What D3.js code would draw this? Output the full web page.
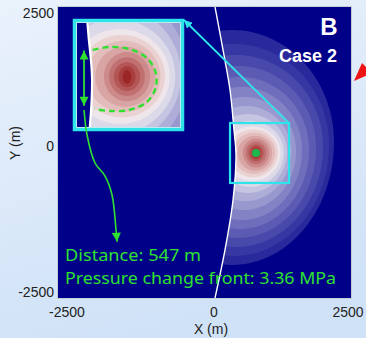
<!DOCTYPE html>
<html><head><meta charset="utf-8">
<script src="https://cdn.jsdelivr.net/npm/d3@7"></script>
<style>html,body{margin:0;padding:0;} svg{display:block}</style>
</head><body><svg id="c" width="366" height="338"></svg>
<script>
// ---- data (metres) ----
const xTicks = [-2500, 0, 2500];
const yTicks = [2500, 0, -2500];
// pressure-change contour bands, outer to inner
const bandCx     = [336,373,411,448,485,522,560,597,634,672,709,728,746,765,784,784,784,784,784];
const bandRight  = [2239,2146,2034,1903,1773,1642,1530,1437,1362,1300,1240,1190,1140,1085,1030,975,925,875,830];
const bandTop    = [2181,1918,1711,1504,1297,1109,921,752,602,470,370,310,250,190,135,80,30,-10,-50];
const bandBottom = [-2037,-1883,-1729,-1575,-1421,-1267,-1096,-942,-805,-700,-600,-535,-480,-425,-370,-315,-265,-225,-190];
const bandColors = ["#29299c","#3737a4","#4949ac","#5b5bb4","#6e6ebc","#8282c5","#9898cf","#adadd8","#c5c5e1","#dcd9e8","#eee6ea","#ebd2d2","#e3bcbc","#d9a4a4","#cd8a8a","#c07070","#b45656","#a83e3e","#9c2626"];
// fault trace
const faultX = [19,168,299,373,411,355,205,19];
const faultY = [2613,1805,1053,301,-154,-924,-1780,-2602];
// injection well
const wellX = 784, wellY = -120;
// zoom window (box in map) and inset extent
const zoomX = [299, 1400], zoomY = [-633, 432];
const insetX = [250, 1350], insetY = [-633, 432];
// pressure change front (dashed)
const frontX = [418,596,806,995,1089,1089,995,806,596,439];
const frontY = [156,186,166,74,-70,-234,-377,-459,-469,-449];
// distance arrow (in zoom window)
const distX = [325, 325], distY = [150, -415];
// leader curve
const leadX = [-2210,-2159,-2023,-1853,-1734,-1666,-1649];
const leadY = [677,207,-291,-514,-839,-1438,-1640];

const svg = d3.select("#c");
const defs = svg.append("defs");
const grad = defs.append("linearGradient").attr("id","bg").attr("x1",0).attr("y1",0).attr("x2",0.3).attr("y2",1);
grad.append("stop").attr("offset","0%").attr("stop-color","#eaf2fc");
grad.append("stop").attr("offset","100%").attr("stop-color","#d0e2f7");
svg.append("rect").attr("width",366).attr("height",338).attr("fill","url(#bg)");

const x = d3.scaleLinear().domain([-2500,0,2500]).range([67,214,348]);
const y = d3.scaleLinear().domain([2500,0,-2500]).range([13,146,292]);
const P = {x0:58, y0:7, x1:351, y1:298};
const I = {x0:77, y0:23, x1:180, y1:127};
const ix = d3.scaleLinear().domain(insetX).range([I.x0, I.x1]);
const iy = d3.scaleLinear().domain([insetY[1], insetY[0]]).range([I.y0, I.y1]);

const NAVY = "#000088", GREEN = "#2fe02f", CYAN = "#2ee4ea";

function field(g, sx, sy, R, id, faultW) {
  defs.append("clipPath").attr("id", id+"r").append("rect")
    .attr("x",R.x0).attr("y",R.y0).attr("width",R.x1-R.x0).attr("height",R.y1-R.y0);
  const gg = g.append("g").attr("clip-path",`url(#${id}r)`);
  gg.append("rect").attr("x",R.x0).attr("y",R.y0).attr("width",R.x1-R.x0).attr("height",R.y1-R.y0).attr("fill",NAVY);
  const fpts = faultX.map((v,i)=>[sx(v), sy(faultY[i])]);
  const fline = d3.line().curve(d3.curveCatmullRom)(fpts);
  const region = fline + `L${sx(4000)},${sy(-4000)}L${sx(4000)},${sy(4000)}L${fpts[0][0]},${sy(4000)}Z`;
  defs.append("clipPath").attr("id", id+"f").append("path").attr("d", region);
  const bands = gg.append("g").attr("clip-path",`url(#${id}f)`);
  bandColors.forEach((c,i)=>{
    const cy = (bandTop[i]+bandBottom[i])/2, ry = (bandTop[i]-bandBottom[i])/2;
    const cx = bandCx[i], rx = bandRight[i]-bandCx[i];
    const pts = d3.range(0,360,3).map(a=>{const t=a*Math.PI/180; return [sx(cx+rx*Math.cos(t)), sy(cy+ry*Math.sin(t))];});
    bands.append("path").attr("d", d3.line().curve(d3.curveLinearClosed)(pts)).attr("fill", c);
  });
  gg.append("path").attr("d", fline).attr("fill","none").attr("stroke","#ffffff").attr("stroke-width",faultW);
  return gg;
}

function marker(id, color, w, h) {
  defs.append("marker").attr("id",id).attr("viewBox","0 0 10 10").attr("refX",10).attr("refY",5)
    .attr("markerUnits","userSpaceOnUse").attr("markerWidth",w).attr("markerHeight",h)
    .attr("orient","auto-start-reverse")
    .append("path").attr("d","M0,0L10,5L0,10Z").attr("fill",color);
}
marker("ga", GREEN, 10, 9);
marker("ca", CYAN, 9, 8);

// main field
const main = svg.append("g");
const mg = field(main, x, y, P, "m", 1.4);
mg.append("circle").attr("cx",x(wellX)).attr("cy",y(wellY)).attr("r",4).attr("fill","#1fb84a");
svg.append("rect").attr("x",P.x0-0.5).attr("y",P.y0-0.5).attr("width",P.x1-P.x0+1).attr("height",P.y1-P.y0+1)
  .attr("fill","none").attr("stroke","#c4ccd8").attr("stroke-width",1);

// zoom box in main
svg.append("rect").attr("x",x(zoomX[0])).attr("y",y(zoomY[1])).attr("width",x(zoomX[1])-x(zoomX[0])).attr("height",y(zoomY[0])-y(zoomY[1]))
  .attr("fill","none").attr("stroke",CYAN).attr("stroke-width",2.2);

// inset
const inset = svg.append("g");
field(inset, ix, iy, I, "i", 2.2);
svg.append("rect").attr("x",I.x0-0.5).attr("y",I.y0-0.5).attr("width",I.x1-I.x0+1).attr("height",I.y1-I.y0+1)
  .attr("fill","none").attr("stroke","#e8eef4").attr("stroke-width",1);
svg.append("rect").attr("x",I.x0-2.5).attr("y",I.y0-2.5).attr("width",I.x1-I.x0+5).attr("height",I.y1-I.y0+5)
  .attr("fill","none").attr("stroke",CYAN).attr("stroke-width",3.5);

// connector arrow
svg.append("line").attr("x1",x(zoomX[1])).attr("y1",y(zoomY[1])).attr("x2",I.x1+4).attr("y2",I.y0-3)
  .attr("stroke",CYAN).attr("stroke-width",1.8).attr("marker-end","url(#ca)");

// pressure front (dashed)
svg.append("path").attr("d", d3.line().curve(d3.curveCatmullRom)(frontX.map((v,i)=>[ix(v), iy(frontY[i])])))
  .attr("fill","none").attr("stroke",GREEN).attr("stroke-width",2.4).attr("stroke-dasharray","6,4");

// distance arrow
svg.append("line").attr("x1",ix(distX[0])).attr("y1",iy(distY[0])).attr("x2",ix(distX[1])).attr("y2",iy(distY[1]))
  .attr("stroke",GREEN).attr("stroke-width",1.8).attr("marker-start","url(#ga)").attr("marker-end","url(#ga)");

// leader
svg.append("path").attr("d", d3.line().curve(d3.curveCatmullRom)(leadX.map((v,i)=>[x(v), y(leadY[i])])))
  .attr("fill","none").attr("stroke",GREEN).attr("stroke-width",1.6).attr("marker-end","url(#ga)");

// texts
const F = "'Noto Sans', 'Open Sans', sans-serif";
const A = "'Liberation Sans', Arial, sans-serif";
svg.append("text").attr("x",65).attr("y",261).attr("fill",GREEN).attr("font-family",F).attr("font-size",17)
  .attr("textLength",136).attr("lengthAdjust","spacingAndGlyphs").text("Distance: 547 m");
svg.append("text").attr("x",65).attr("y",284).attr("fill",GREEN).attr("font-family",F).attr("font-size",17)
  .attr("textLength",271).attr("lengthAdjust","spacingAndGlyphs").text("Pressure change front: 3.36 MPa");
svg.append("text").attr("x",329).attr("y",35).attr("text-anchor","middle").attr("fill","#fff").attr("font-family",A).attr("font-weight","bold").attr("font-size",24).text("B");
svg.append("text").attr("x",337).attr("y",62).attr("text-anchor","end").attr("fill","#fff").attr("font-family",A).attr("font-weight","bold").attr("font-size",18).text("Case 2");

// ticks
svg.selectAll(".xt").data(xTicks).join("text").attr("x",d=>x(d)).attr("y",317).attr("text-anchor","middle")
  .attr("font-family",A).attr("font-size",14).attr("fill","#222").text(d=>d);
svg.selectAll(".yt").data(yTicks).join("text").attr("x",54).attr("y",d=>y(d)+5).attr("text-anchor","end")
  .attr("font-family",A).attr("font-size",14).attr("fill","#222").text(d=>d);
svg.append("text").attr("x",211).attr("y",334).attr("text-anchor","middle").attr("font-family",A).attr("font-size",14).attr("fill","#222").text("X (m)");
svg.append("text").attr("transform","translate(20,143) rotate(-90)").attr("text-anchor","middle").attr("font-family",A).attr("font-size",14).attr("fill","#222").text("Y (m)");

// red pointer (partially outside)
svg.append("path").attr("d","M354,81L362,63L372,73Z").attr("fill","#ee1414");
</script></body></html>
